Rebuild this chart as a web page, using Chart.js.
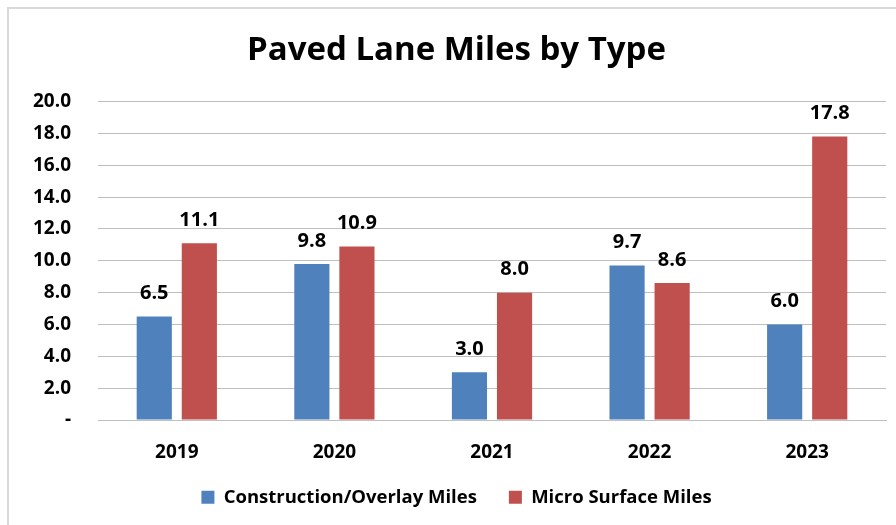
<!DOCTYPE html>
<html>
<head>
<meta charset="utf-8">
<script src="https://cdn.jsdelivr.net/npm/chart.js@4"></script>
<style>
  html, body { margin: 0; padding: 0; background: #fff; }
  #wrap { position: relative; width: 896px; height: 525px; }
  #frame { position: absolute; left: 7px; top: 7px; width: 900px; height: 540px; border: 2px solid #d9d9d9; box-sizing: border-box; }
  canvas { position: absolute; left: 0; top: 0; }
</style>
</head>
<body>
<div id="wrap">
  <div id="frame"></div>
  <canvas id="chart" width="896" height="525"></canvas>
</div>
<script>
// dữ liệu
const years = ['2019', '2020', '2021', '2022', '2023'];
const constructionMiles = [6.5, 9.8, 3.0, 9.7, 6.0];
const microSurfaceMiles = [11.1, 10.9, 8.0, 8.6, 17.8];
const yTickValues = [0, 2, 4, 6, 8, 10, 12, 14, 16, 18, 20];

const FONT = '"Open Sans", sans-serif';

// nhãn giá trị phía trên cột
const barLabels = {
    id: 'barLabels',
    afterDatasetsDraw(chart) {
        const ctx = chart.ctx;
        ctx.save();
        ctx.font = 'bold 20px ' + FONT;
        ctx.fillStyle = '#000';
        ctx.textAlign = 'center';
        ctx.textBaseline = 'middle';
        chart.data.datasets.forEach((ds, i) => {
            chart.getDatasetMeta(i).data.forEach((bar, j) => {
                ctx.fillText(ds.data[j].toFixed(1), bar.x, bar.y - 23);
            });
        });
        ctx.restore();
    }
};

// cho nhãn trục x không bị cắt khi chú giải nằm sát bên dưới
const looseXLabels = {
    id: 'looseXLabels',
    afterLayout(chart) {
        chart.scales.x.bottom += 40;
    }
};

new Chart(document.getElementById('chart'), {
    type: 'bar',
    data: {
        labels: years,
        datasets: [{
            label: 'Construction/Overlay Miles',
            data: constructionMiles,
            backgroundColor: '#4F81BD',
            categoryPercentage: 0.572,
            barPercentage: 0.78
        }, {
            label: 'Micro Surface Miles',
            data: microSurfaceMiles,
            backgroundColor: '#C0504D',
            categoryPercentage: 0.572,
            barPercentage: 0.78
        }]
    },
    options: {
        responsive: false,
        animation: false,
        layout: { padding: { top: 31, right: 10, left: 27, bottom: 9 } },
        plugins: {
            title: {
                display: true,
                text: 'Paved Lane Miles by Type',
                color: '#000',
                font: { family: FONT, size: 33, weight: 'bold' },
                padding: { top: 0, bottom: 31 }
            },
            legend: {
                position: 'bottom',
                maxHeight: 60,
                labels: {
                    color: '#000',
                    font: { family: FONT, size: 18.5, weight: 'bold' },
                    boxWidth: 13,
                    boxHeight: 13,
                    padding: 32
                }
            },
            tooltip: { enabled: false }
        },
        scales: {
            x: {
                afterFit(scale) { scale.height = 36; },
                grid: { display: false, drawTicks: false },
                border: { color: '#bfbfbf', width: 1 },
                ticks: { color: '#000', font: { family: FONT, size: 19, weight: 'bold' }, padding: 21 }
            },
            y: {
                min: 0,
                max: 20,
                afterFit(scale) { scale.width = 71; },
                afterBuildTicks(scale) { scale.ticks = yTickValues.map(v => ({ value: v })); },
                grid: { color: '#bfbfbf', lineWidth: 1, drawTicks: false },
                border: { display: false },
                ticks: {
                    color: '#000',
                    font: { family: FONT, size: 19, weight: 'bold' },
                    padding: 27,
                    callback: v => v === 0 ? '-' : v.toFixed(1)
                }
            }
        }
    },
    plugins: [barLabels, looseXLabels]
});
</script>
</body>
</html>
